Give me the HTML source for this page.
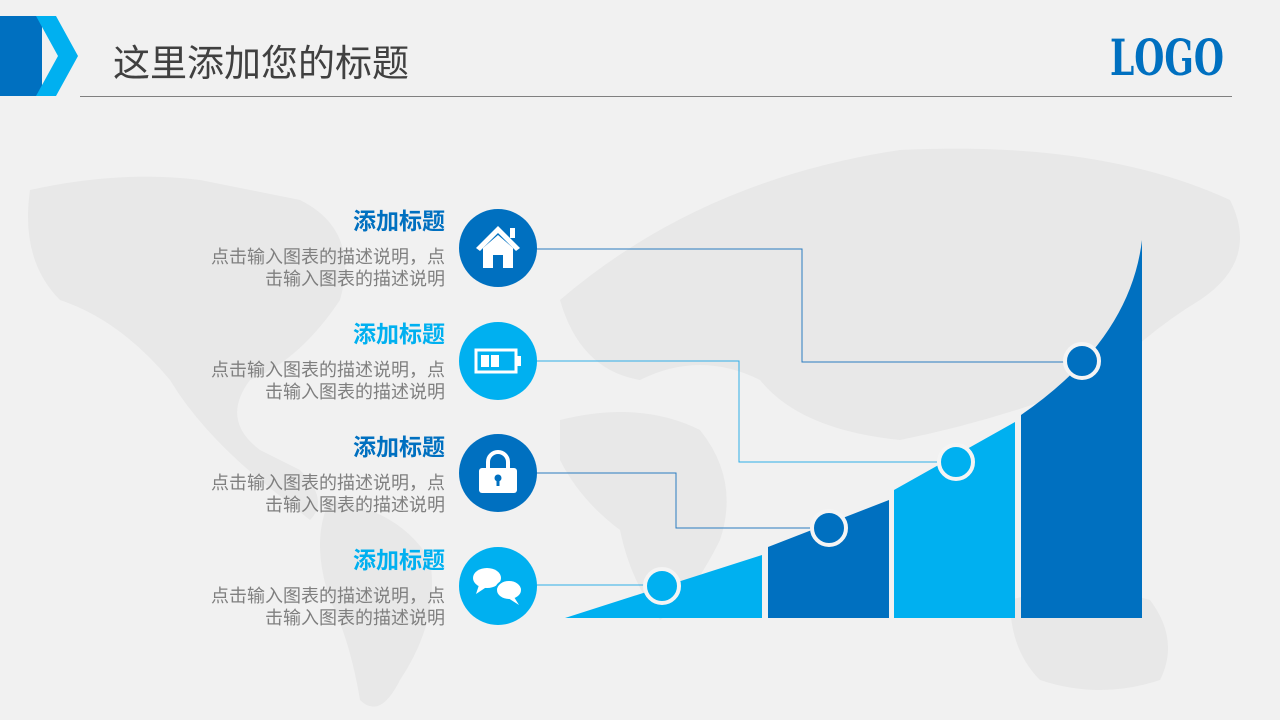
<!DOCTYPE html>
<html><head><meta charset="utf-8"><style>
html,body{margin:0;padding:0;width:1280px;height:720px;overflow:hidden;background:#f1f1f1}
svg{display:block}
.t{font-family:"Liberation Sans","Noto Sans CJK SC",sans-serif}
</style></head><body>
<svg width="1280" height="720" viewBox="0 0 1280 720" xmlns="http://www.w3.org/2000/svg">
<rect width="1280" height="720" fill="#f1f1f1"/>
<!-- faint map -->
<g fill="#e8e8e8">
<path d="M30 190 Q120 170 200 180 L300 200 Q360 230 340 300 Q300 360 250 380 Q220 420 260 450 L300 470 Q330 500 310 520 L260 480 Q200 430 170 380 Q120 320 60 300 Q20 260 30 190Z"/>
<path d="M330 500 Q400 510 430 560 Q440 620 400 680 Q380 720 360 700 Q350 640 330 600 Q310 540 330 500Z"/>
<path d="M560 420 Q640 400 700 430 Q740 480 720 540 Q690 600 660 620 Q630 580 620 530 Q580 500 560 460Z"/>
<path d="M560 300 Q700 180 900 150 Q1100 140 1230 200 Q1260 260 1200 300 Q1150 330 1100 380 Q1000 420 900 440 Q800 430 760 380 Q700 350 640 380 Q580 370 560 300Z"/>
<path d="M1010 600 Q1080 580 1150 600 Q1180 640 1160 680 Q1100 700 1040 680 Q1010 650 1010 600Z"/>
</g>
<!-- header -->
<rect x="0" y="16" width="42" height="80" fill="#0070c0"/>
<polygon points="36,16 56,16 78,56 56,96 36,96 58,56" fill="#00b0f0"/>
<text x="113" y="76" class="t" font-size="37" fill="#404040">这里添加您的标题</text>
<line x1="80" y1="96.5" x2="1232" y2="96.5" stroke="#808080" stroke-width="1"/>
<text x="1110" y="75" font-family="DejaVu Serif,serif" font-weight="bold" font-size="50" fill="#0070c0" textLength="114" lengthAdjust="spacingAndGlyphs">LOGO</text>
<!-- bars -->
<polygon points="565,618 762,555 762,618" fill="#00b0f0"/>
<polygon points="768,547 889,500 889,618 768,618" fill="#0070c0"/>
<polygon points="894,490 1015,422 1015,618 894,618" fill="#00b0f0"/>
<path d="M1021,415 Q1130,340 1142,240 L1142,618 L1021,618Z" fill="#0070c0"/>
<!-- connectors -->
<g fill="none" stroke-width="1">
<polyline points="536,249 802,249 802,362 1082,362" stroke="#2a7cc0"/>
<polyline points="536,361 739,361 739,462 956,462" stroke="#30aee8"/>
<polyline points="536,473 676,473 676,528 829,528" stroke="#2a7cc0"/>
<polyline points="536,585 662,585" stroke="#30aee8"/>
</g>
<g stroke="#f4f4f4" stroke-width="4">
<circle cx="662" cy="586" r="17" fill="#00b0f0"/>
<circle cx="829" cy="528" r="17" fill="#0070c0"/>
<circle cx="956" cy="462" r="17" fill="#00b0f0"/>
<circle cx="1082" cy="361" r="17" fill="#0070c0"/>
</g>
<!-- icon circles -->
<circle cx="498" cy="248" r="39" fill="#0070c0"/>
<circle cx="498" cy="361" r="39" fill="#00b0f0"/>
<circle cx="498" cy="473" r="39" fill="#0070c0"/>
<circle cx="498" cy="586" r="39" fill="#00b0f0"/>
<!-- house -->
<g fill="#fff">
<polygon points="476,248 498,226 520,248 516,251 498,233 480,251"/>
<rect x="510" y="228" width="5" height="10"/>
<path d="M483 248 L498 235 L513 248 L513 268 L503 268 L503 255 L493 255 L493 268 L483 268Z"/>
</g>
<!-- battery -->
<rect x="476" y="350" width="40" height="22" fill="none" stroke="#fff" stroke-width="3"/>
<rect x="517" y="356" width="4" height="10" fill="#fff"/>
<rect x="481" y="355" width="8" height="12" fill="#fff"/>
<rect x="491" y="355" width="8" height="12" fill="#fff"/>
<!-- lock -->
<path d="M488 470 L488 462 A10 10 0 0 1 508 462 L508 470" fill="none" stroke="#fff" stroke-width="4"/>
<rect x="479" y="468" width="38" height="25" rx="3" fill="#fff"/>
<circle cx="498" cy="478" r="3.5" fill="#0070c0"/>
<rect x="496.5" y="478" width="3" height="8" fill="#0070c0"/>
<!-- chat -->
<g fill="#fff">
<ellipse cx="487" cy="578" rx="14" ry="10"/>
<polygon points="479,585 476,594 488,586"/>
<ellipse cx="509" cy="590" rx="13" ry="10" stroke="#00b0f0" stroke-width="2"/>
<polygon points="514,597 519,605 508,598"/>
</g>
<!-- texts -->
<g class="t" text-anchor="end">
<text x="445" y="229" font-size="23" font-weight="bold" fill="#0070c0">添加标题</text>
<text x="445" y="263" font-size="18" fill="#7f7f7f">点击输入图表的描述说明，点</text>
<text x="445" y="285" font-size="18" fill="#7f7f7f">击输入图表的描述说明</text>
<text x="445" y="342" font-size="23" font-weight="bold" fill="#00b0f0">添加标题</text>
<text x="445" y="376" font-size="18" fill="#7f7f7f">点击输入图表的描述说明，点</text>
<text x="445" y="398" font-size="18" fill="#7f7f7f">击输入图表的描述说明</text>
<text x="445" y="455" font-size="23" font-weight="bold" fill="#0070c0">添加标题</text>
<text x="445" y="489" font-size="18" fill="#7f7f7f">点击输入图表的描述说明，点</text>
<text x="445" y="511" font-size="18" fill="#7f7f7f">击输入图表的描述说明</text>
<text x="445" y="568" font-size="23" font-weight="bold" fill="#00b0f0">添加标题</text>
<text x="445" y="602" font-size="18" fill="#7f7f7f">点击输入图表的描述说明，点</text>
<text x="445" y="624" font-size="18" fill="#7f7f7f">击输入图表的描述说明</text>
</g>
</svg>
</body></html>
